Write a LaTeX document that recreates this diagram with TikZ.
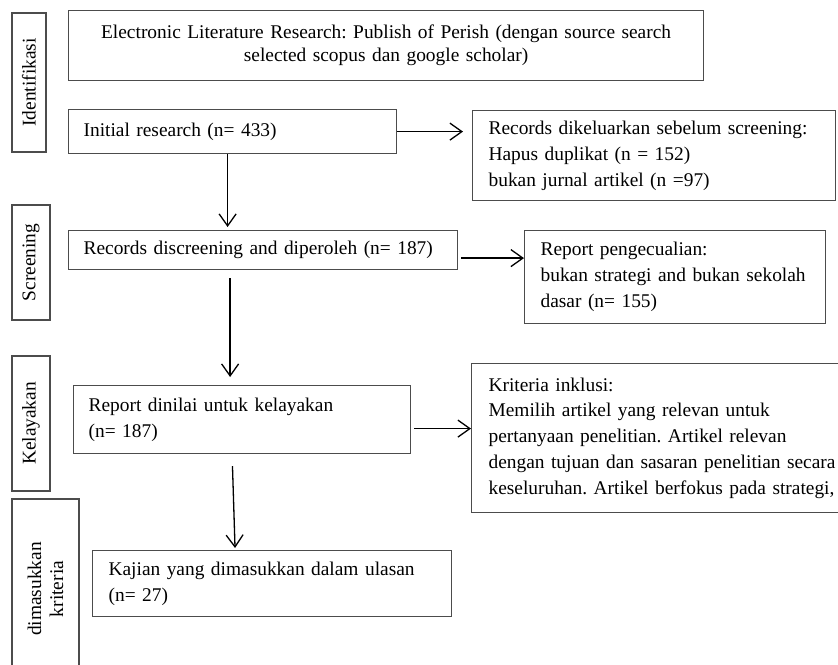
\documentclass[tikz,border=0pt]{standalone}
\usepackage{fontspec}
\setmainfont{Liberation Serif}
\usetikzlibrary{arrows.meta}
\frenchspacing

\begin{document}
\begin{tikzpicture}[x=1pt, y=-1pt,
  font=\fontsize{19.4}{25.8}\selectfont,
  box/.style={draw=black!70, line width=1.2pt, anchor=north west,
    align=left, inner xsep=15pt, inner ysep=0pt},
  side/.style={draw=black!70, line width=1.2pt, rotate=90,
    inner sep=0pt, align=center},
  arr/.style={line width=1.3pt, -{Straight Barb[length=12pt,width=17pt]}}]
\useasboundingbox (0,0) rectangle (838,664);

% stage labels on the left
\node [side, minimum width=139, minimum height=34] (ident) at (29,82.5) {Identifikasi};
\node [side, minimum width=115, minimum height=38] (scr) at (31,262.5) {Screening};
\node [side, minimum width=135, minimum height=38] (kel) at (31,423.5) {Kelayakan};
\node [side, minimum width=180, minimum height=67,
  font=\fontsize{19.4}{22}\selectfont] (dim) at (45.5,589) {dimasukkan\\kriteria};

% main column
\node [box, align=center, text width=605, minimum height=70,
  font=\fontsize{19.4}{23}\selectfont] (src) at (68,10)
  {Electronic Literature Research: Publish of Perish (dengan source search\\
   selected scopus dan google scholar)};
\node [box, text width=298, minimum height=44] (init) at (68,109)
  {Initial research (n= 433)};
\node [box, text width=359, minimum height=39] (disc) at (68,230)
  {Records discreening and diperoleh (n= 187)};
\node [box, text width=307, minimum height=68] (nilai) at (73,385)
  {Report dinilai untuk kelayakan\\(n= 187)};
\node [box, inner xsep=16pt, text width=327, minimum height=66] (kaji) at (92,550)
  {Kajian yang dimasukkan dalam ulasan\\(n= 27)};

% boxes on the right
\node [box, inner xsep=16pt, text width=331, minimum height=90] (keluar) at (472,110)
  {Records dikeluarkan sebelum screening:\\
   Hapus duplikat (n = 152)\\
   bukan jurnal artikel (n =97)};
\node [box, inner xsep=16pt, text width=269, minimum height=93] (kecuali) at (524,230)
  {Report pengecualian:\\
   bukan strategi and bukan sekolah\\
   dasar (n= 155)};
\node [box, inner xsep=17pt, text width=390, minimum height=149] (inklusi) at (471,363)
  {Kriteria inklusi:\\
   Memilih artikel yang relevan untuk\\
   pertanyaan penelitian. Artikel relevan\\
   dengan tujuan dan sasaran penelitian secara\\
   keseluruhan. Artikel berfokus pada strategi,};

% arrow start points
\coordinate (d1) at ([yshift=-8pt]disc.east);
\coordinate (n1) at ([yshift=-9pt]nilai.east);

% arrows down
\draw [arr, shorten >=3pt] ([xshift=-5pt]init.south)
  -- ([xshift=-5pt]init.south |- disc.north);
\draw [arr, shorten <=8pt, shorten >=8pt] ([xshift=-33pt]disc.south)
  -- ([xshift=-33pt]disc.south |- nilai.north);
\draw [arr, shorten <=12pt, shorten >=2pt] ([xshift=-10pt]nilai.south)
  -- ([xshift=-37pt]kaji.north);

% arrows right
\draw [arr, shorten >=9pt] (init.east) -- (keluar.west |- init.east);
\draw [arr, shorten <=3pt] (d1) -- (kecuali.west |- d1);
\draw [arr, shorten <=3pt] (n1) -- (inklusi.west |- n1);
\end{tikzpicture}
\end{document}
